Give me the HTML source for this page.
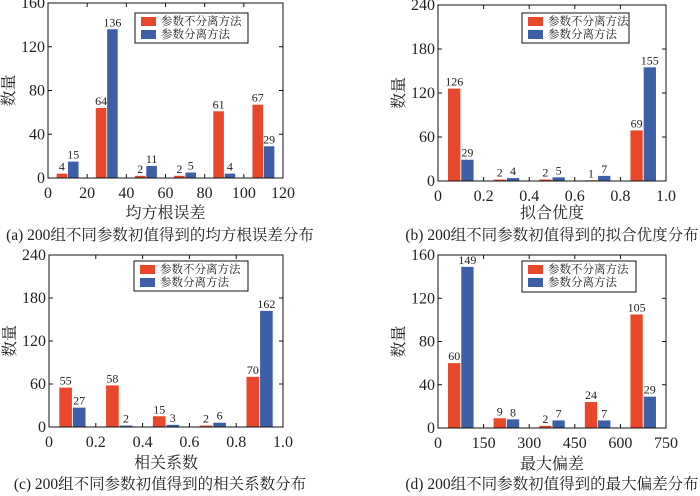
<!DOCTYPE html>
<html><head><meta charset="utf-8"><style>
body{margin:0;background:#fff;}
svg{display:block;}
text{font-family:"Liberation Serif","Noto Serif CJK SC",serif;fill:#222;}
</style></head><body>
<svg id="c" width="700" height="496" viewBox="0 0 700 496" xmlns="http://www.w3.org/2000/svg"></svg>
<script>
const titlesA="(a) 200组不同参数初值得到的均方根误差分布";
const redA=[4,64,2,2,61,67];
const blueA=[15,136,11,5,4,29];
const redB=[126,2,2,1,69];
const blueB=[29,4,5,7,155];
const redC=[55,58,15,2,70];
const blueC=[27,2,3,6,162];
const redD=[60,9,2,24,105];
const blueD=[149,8,7,7,29];
const xTicksA=["0","20","40","60","80","100","120"];
const xTicksB=["0","0.2","0.4","0.6","0.8","1.0"];
const xTicksD=["0","150","300","450","600","750"];
const yTicks160=[0,40,80,120,160];
const yTicks240=[0,60,120,180,240];
const legendNames=["参数不分离方法","参数分离方法"];
const panels=[
 {id:"a",x0:48,x1:283,y0:3,y1:178,ymax:160,yt:yTicks160,xt:xTicksA,red:redA,blue:blueA,xl:"均方根误差",cap:titlesA,lg:[135,13,113,30],cx:160,xlY:218,capY:240},
 {id:"b",x0:438,x1:666,y0:5,y1:181,ymax:240,yt:yTicks240,xt:xTicksB,red:redB,blue:blueB,xl:"拟合优度",cap:"(b) 200组不同参数初值得到的拟合优度分布",lg:[522,13,107,30],cx:552,xlY:218,capY:240},
 {id:"c",x0:49,x1:283,y0:255,y1:427,ymax:240,yt:yTicks240,xt:xTicksB,red:redC,blue:blueC,xl:"相关系数",cap:"(c) 200组不同参数初值得到的相关系数分布",lg:[134,261,114,30],cx:160,xlY:468,capY:489},
 {id:"d",x0:438,x1:666,y0:255,y1:428,ymax:160,yt:yTicks160,xt:xTicksD,red:redD,blue:blueD,xl:"最大偏差",cap:"(d) 200组不同参数初值得到的最大偏差分布",lg:[522,261,114,31],cx:552,xlY:469,capY:489}
];
const svg=document.getElementById('c');
const NS="http://www.w3.org/2000/svg";
function mk(t,a,p){const e=document.createElementNS(NS,t);for(const k in a)e.setAttribute(k,a[k]);(p||svg).appendChild(e);return e;}
panels.forEach(P=>{
 const g=mk('g',{});
 
 
 const n=P.red.length;
 const sx=i=>P.x0+(P.x1-P.x0)*i/n;
 const sy=v=>P.y1-(P.y1-P.y0)*v/P.ymax;
 const bw=(P.x1-P.x0)/n;
 for(let i=0;i<n;i++){
  const c=sx(i+0.5);
  [[P.red[i],'#e8472a',-1,'red'],[P.blue[i],'#3d5fa8',1,'blue']].forEach(([v,col,s,nm])=>{
   const w=bw*0.27, xc=c+s*bw*0.145;
   const r=mk('rect',{x:xc-w/2,y:sy(v),width:w,height:P.y1-sy(v),fill:col},g);
   
   
   const t=mk('text',{x:xc,y:sy(v)-3,'font-size':12,'text-anchor':'middle'},g);
   t.textContent=v;
   
   
  });
 }
 const fr=mk('rect',{x:P.x0,y:P.y0,width:P.x1-P.x0,height:P.y1-P.y0,fill:'none',stroke:'#111','stroke-width':1},g);
 
 
 P.yt.forEach(v=>{
  const y=sy(v);
  mk('line',{x1:P.x0,x2:P.x0+4,y1:y,y2:y,stroke:'#111'},g);
  mk('line',{x1:P.x1,x2:P.x1-4,y1:y,y2:y,stroke:'#111'},g);
  const t=mk('text',{x:P.x0-3,y:y+5,'font-size':16,'text-anchor':'end'},g);
  t.textContent=v;
  
  
 });
 P.xt.forEach((s,i)=>{
  const x=P.x0+(P.x1-P.x0)*i/(P.xt.length-1);
  mk('line',{x1:x,x2:x,y1:P.y1,y2:P.y1-4,stroke:'#111'},g);
  mk('line',{x1:x,x2:x,y1:P.y0,y2:P.y0+4,stroke:'#111'},g);
  const t=mk('text',{x:x,y:P.y1+20,'font-size':16,'text-anchor':'middle'},g);
  t.textContent=s;
  
  
 });
 const yl=mk('text',{x:0,y:0,'font-size':16,'text-anchor':'middle',transform:`translate(${P.x0-34},${(P.y0+P.y1)/2}) rotate(-90)`},g);
 yl.textContent='数量';
 
 
 const xl=mk('text',{x:(P.x0+P.x1)/2,y:P.xlY,'font-size':16,'text-anchor':'middle'},g);
 xl.textContent=P.xl;
 
 
 const cp=mk('text',{x:P.cx,y:P.capY,'font-size':15.5,'text-anchor':'middle'},g);
 cp.textContent=P.cap;
 
 
 const [lx,ly,lw,lh]=P.lg;
 const lg=mk('g',{},g);
 
 
 mk('rect',{x:lx,y:ly,width:lw,height:lh,fill:'#fff',stroke:'#111'},lg);
 legendNames.forEach((nm,k)=>{
  mk('rect',{x:lx+6,y:ly+4+k*13,width:15,height:9,fill:k?'#3d5fa8':'#e8472a'},lg);
  const t=mk('text',{x:lx+26,y:ly+12+k*13,'font-size':11.5},lg);
  t.textContent=nm;
  
  
 });
});
</script>
</body></html>
